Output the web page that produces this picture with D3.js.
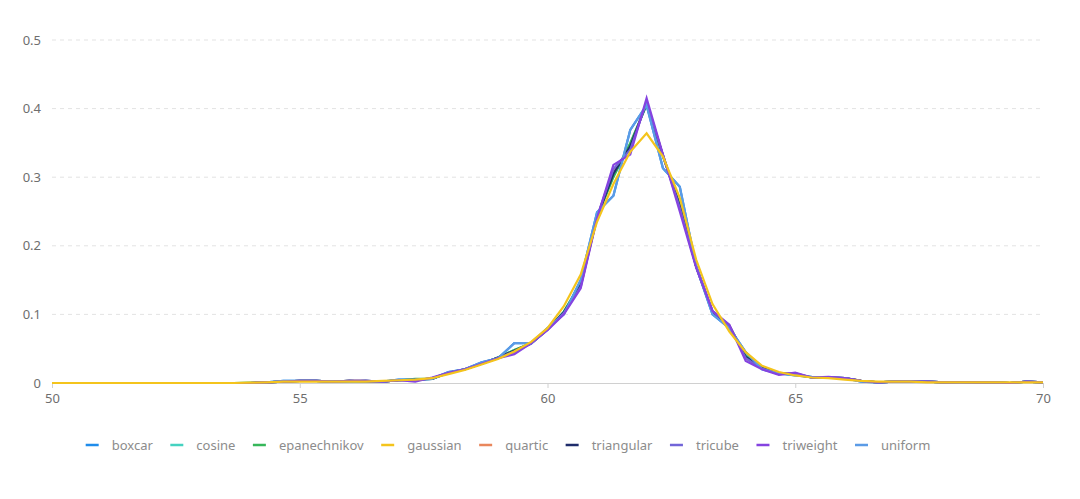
<html>
<meta charset="utf-8" />
<head>
<title>KDE kernels</title>
<script src="https://cdn.jsdelivr.net/npm/d3@7/dist/d3.min.js"></script>
<style>
	body { margin: 0; background: #fff; }
	text { font-family: "Noto Sans", "Open Sans", sans-serif; }
</style>
<script>
// x positions of the density estimate (50 .. 70)
let xs = [50, 50.33, 50.67, 51, 51.33, 51.67, 52, 52.33, 52.67, 53, 53.33, 53.67,
	54, 54.33, 54.67, 55, 55.33, 55.67, 56, 56.33, 56.67, 57, 57.33, 57.67,
	58, 58.33, 58.67, 59, 59.33, 59.67, 60, 60.33, 60.67, 61, 61.33, 61.67,
	62, 62.33, 62.67, 63, 63.33, 63.67, 64, 64.33, 64.67, 65, 65.33, 65.67,
	66, 66.33, 66.67, 67, 67.33, 67.67, 68, 68.33, 68.67, 69, 69.33, 69.67, 70];

let kernels = ['boxcar', 'cosine', 'epanechnikov', 'gaussian', 'quartic', 'triangular', 'tricube', 'triweight', 'uniform'];
let colors = ['#1f8ceb', '#45d2c0', '#36b75a', '#f4c41c', '#e9875c', '#1f2c6b', '#7265d8', '#8543e0', '#5b9be6'];

let zeros = [0, 0, 0, 0, 0, 0, 0, 0, 0, 0, 0, 0];

let boxcar = zeros.concat([0, .001, .003, .003, .003, .002, .002, .003, .002, .005,
	.005, .006, .016, .02, .03, .036, .058, .058, .08, .1,
	.15, .249, .273, .369, .405, .313, .286, .17, .1, .08,
	.045, .02, .014, .011, .009, .008, .007, .002, .001, .002,
	.002, .002, .001, 0, .001, .001, 0, .002, .001]);
let cosine = zeros.concat([0, .001, .002, .003, .003, .002, .003, .002, .002, .004,
	.005, .006, .015, .02, .028, .037, .048, .058, .078, .104,
	.145, .242, .302, .348, .406, .331, .259, .17, .103, .083,
	.039, .022, .014, .012, .008, .008, .007, .003, .001, .002,
	.002, .002, .001, .001, .001, .001, 0, .002, .001]);
let epanechnikov = zeros.concat([.0005, .001, .002, .003, .003, .002, .003, .002, .002, .004,
	.006, .006, .015, .02, .028, .037, .048, .058, .078, .104,
	.145, .242, .30, .35, .405, .33, .26, .17, .103, .083,
	.04, .022, .014, .012, .008, .008, .007, .003, .001, .002,
	.002, .002, .001, .001, .001, .001, 0, .002, .001]);
let gaussian = zeros.concat([.0005, .001, .002, .002, .002, .002, .002, .002, .003, .004,
	.005, .007, .013, .019, .027, .035, .046, .06, .08, .112,
	.158, .235, .29, .337, .364, .33, .27, .18, .115, .075,
	.045, .025, .016, .011, .008, .007, .005, .003, .002, .002,
	.002, .001, .001, .001, .001, .001, .001, .001, .001]);
let quartic = zeros.concat([0, .001, .002, .003, .003, .002, .003, .003, .002, .004,
	.004, .007, .015, .02, .028, .036, .045, .058, .078, .102,
	.141, .241, .31, .342, .41, .332, .256, .17, .104, .084,
	.036, .021, .013, .014, .008, .008, .007, .003, .001, .002,
	.002, .002, .001, .001, .001, .001, 0, .002, .001]);
let triangular = zeros.concat([0, .001, .002, .003, .003, .002, .003, .003, .002, .004,
	.005, .006, .015, .02, .028, .037, .047, .058, .078, .103,
	.143, .242, .305, .345, .408, .332, .258, .17, .104, .083,
	.038, .022, .014, .013, .008, .008, .007, .003, .001, .002,
	.002, .002, .001, .001, .001, .001, 0, .002, .001]);
let tricube = zeros.concat([0, .001, .002, .003, .003, .002, .003, .002, .002, .004,
	.004, .007, .015, .02, .029, .036, .046, .057, .078, .102,
	.14, .242, .312, .34, .41, .332, .255, .17, .105, .084,
	.036, .021, .013, .014, .008, .008, .007, .003, .001, .002,
	.002, .002, .001, .001, .001, .001, 0, .002, .001]);
let triweight = zeros.concat([0, .001, .002, .003, .003, .002, .003, .003, .002, .004,
	.002, .008, .015, .02, .028, .036, .042, .058, .077, .1,
	.138, .24, .318, .333, .415, .333, .25, .168, .105, .085,
	.032, .02, .012, .015, .008, .009, .007, .003, .001, .002,
	.002, .002, .001, .001, .001, .001, 0, .002, .001]);
let uniform = zeros.concat([0, .001, .003, .003, .003, .002, .002, .003, .002, .005,
	.005, .006, .016, .02, .03, .036, .058, .058, .08, .1,
	.15, .249, .273, .369, .405, .313, .286, .17, .1, .08,
	.045, .02, .014, .011, .009, .008, .007, .002, .001, .002,
	.002, .002, .001, 0, .001, .001, 0, .002, .001]);

let seriesValues = [boxcar, cosine, epanechnikov, gaussian, quartic, triangular, tricube, triweight, uniform];

let xTicks = [50, 55, 60, 65, 70];
let yTicks = [0, 0.1, 0.2, 0.3, 0.4, 0.5];

window.onload = function() {
	let width = 1080, height = 499;
	let left = 52, right = 1043, top = 40, bottom = 383;

	let svg = d3.select('body').append('svg')
		.attr('width', width)
		.attr('height', height);

	let x = d3.scaleLinear().domain([50, 70]).range([left, right]);
	let y = d3.scaleLinear().domain([0, 0.5]).range([bottom, top]);

	// grid lines
	svg.append('g')
		.selectAll('line')
		.data(yTicks.filter(function(d) { return d > 0; }))
		.enter()
		.append('line')
		.attr('x1', left)
		.attr('x2', right)
		.attr('y1', function(d) { return y(d); })
		.attr('y2', function(d) { return y(d); })
		.style('stroke', '#e3e3e3')
		.style('stroke-dasharray', '4,4');

	// y labels
	svg.append('g')
		.selectAll('text')
		.data(yTicks)
		.enter()
		.append('text')
		.attr('x', 41)
		.attr('y', function(d) { return y(d); })
		.attr('dy', '0.35em')
		.attr('text-anchor', 'end')
		.style('font-size', '13px')
		.style('fill', '#6e6e6e')
		.text(function(d) { return d === 0 ? '0' : d3.format('.1f')(d); });

	// x axis
	let xAxis = svg.append('g')
		.attr('transform', 'translate(0,' + bottom + ')')
		.call(d3.axisBottom(x).tickValues(xTicks).tickSize(5).tickPadding(6).tickFormat(d3.format('d')));
	xAxis.select('.domain').style('stroke', '#d0d0d0');
	xAxis.selectAll('.tick line').style('stroke', '#d0d0d0');
	xAxis.selectAll('text')
		.style('font-family', '"Noto Sans", "Open Sans", sans-serif')
		.style('font-size', '13px')
		.style('fill', '#6e6e6e');

	// lines
	let line = d3.line()
		.x(function(d, i) { return x(xs[i]); })
		.y(function(d) { return y(d); });

	let order = [0, 1, 2, 4, 5, 6, 8, 7, 3];
	svg.append('g')
		.selectAll('path')
		.data(order)
		.enter()
		.append('path')
		.attr('d', function(k) { return line(seriesValues[k]); })
		.style('fill', 'none')
		.style('stroke', function(k) { return colors[k]; })
		.style('stroke-width', 2.2);

	// legend
	let legend = svg.append('g');
	let items = legend.selectAll('g')
		.data(kernels)
		.enter()
		.append('g');
	items.append('line')
		.attr('x1', 0).attr('x2', 13)
		.attr('y1', 0).attr('y2', 0)
		.style('stroke', function(d, i) { return colors[i]; })
		.style('stroke-width', 2.5);
	items.append('text')
		.attr('x', 26)
		.attr('dy', '0.35em')
		.style('font-size', '13px')
		.style('fill', '#8c8c8c')
		.text(function(d) { return d; });

	let pos = 0;
	let offsets = [];
	items.each(function() {
		offsets.push(pos);
		let w = d3.select(this).select('text').node().getComputedTextLength();
		pos += 26 + w + 17.5;
	});
	let total = pos - 17.5;
	let start = 508 - total / 2;
	items.attr('transform', function(d, i) { return 'translate(' + (start + offsets[i]) + ',445)'; });
};
</script>
</head>
<body>
</body>
</html>
